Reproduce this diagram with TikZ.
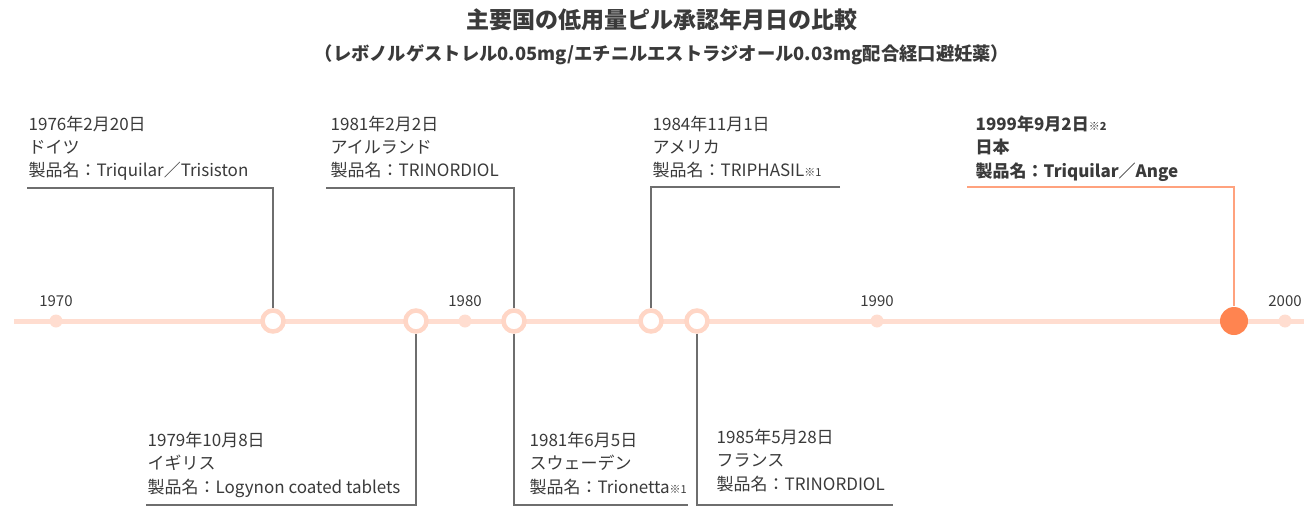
\documentclass[tikz,border=0pt]{standalone}
\usepackage{fontspec}
\setmainfont{Noto Sans CJK JP}
\usepackage{tikz}
\definecolor{tl}{HTML}{FFDDD0}
\definecolor{ring}{HTML}{FFD6C6}
\definecolor{jp}{HTML}{FF8450}
\definecolor{jpline}{HTML}{FFA27E}
\definecolor{txt}{HTML}{3A3A3A}
\definecolor{conn}{HTML}{6E6E6E}
\newcommand\smallmark[1]{{\fontsize{11}{11}\selectfont #1}}

\begin{document}
\begin{tikzpicture}[x=1pt,y=-1pt,line width=1.3pt,
  every node/.style={text=txt},
  lbl/.style={align=left,inner sep=0,anchor=north west,font=\fontsize{17}{23.5}\selectfont},
  year/.style={inner sep=0,font=\fontsize{15}{15}\selectfont},
  tick/.style={circle,fill=tl,inner sep=0,minimum size=13pt},
  ring/.style={circle,draw=ring,line width=4.5pt,fill=white,inner sep=0,minimum size=21pt},
  link/.style={draw=conn}]

  \useasboundingbox (0,0) rectangle (1307,506);

  \node[font=\fontsize{23}{23}\selectfont\bfseries] (t) at (662,20) {主要国の低用量ピル承認年月日の比較};
  \node[font=\fontsize{18.3}{18.3}\selectfont\bfseries] (st) at (662,55) {（レボノルゲストレル0.05mg/エチニルエストラジオール0.03mg配合経口避妊薬）};

  % timeline
  \coordinate (s) at (14,321);
  \coordinate (e) at (1304,321);
  \draw[tl,line width=5pt] (s) -- (e);

  \foreach \x/\yr in {56/1970,465/1980,877/1990,1285/2000} {
    \node[tick] (y\yr) at (\x,321) {};
    \node[year] (n\yr) at (\x,301) {\yr};
  }

  \node[ring] (1) at (273,321) {};
  \node[ring] (2) at (416,321) {};
  \node[ring] (3) at (514,321) {};
  \node[ring] (4) at (651,321) {};
  \node[ring] (5) at (697,321) {};
  \node[circle,fill=jp,inner sep=0,minimum size=28pt] (6) at (1234,321) {};

  % labels
  \node[lbl] (l1) at (28,115) {1976年2月20日\\ドイツ\\製品名：Triquilar／Trisiston};
  \node[lbl] (l2) at (147,431) {1979年10月8日\\イギリス\\製品名：Logynon coated tablets};
  \node[lbl] (l3) at (330,115) {1981年2月2日\\アイルランド\\製品名：TRINORDIOL};
  \node[lbl] (l4) at (529,431) {1981年6月5日\\スウェーデン\\製品名：Trionetta\smallmark{※1}};
  \node[lbl] (l5) at (652,115) {1984年11月1日\\アメリカ\\製品名：TRIPHASIL\smallmark{※1}};
  \node[lbl] (l6) at (716,428) {1985年5月28日\\フランス\\製品名：TRINORDIOL};
  \node[lbl,font=\fontsize{17}{23.5}\selectfont\bfseries] (l7) at (975,115) {1999年9月2日\smallmark{※2}\\日本\\製品名：Triquilar／Ange};

  % connectors
  \coordinate (c1) at (27,188);
  \coordinate (c2) at (146,505);
  \coordinate (c3) at (326,188);
  \coordinate (c4) at (688,505);
  \coordinate (c5) at (840,187);
  \coordinate (c6) at (893,505);
  \coordinate (c7) at (967,187);
  \draw[link] (c1) -| (1.north);
  \draw[link] (c2) -| (2.south);
  \draw[link] (c3) -| (3.north);
  \draw[link] (3.south) |- (c4);
  \draw[link] (c5) -| (4.north);
  \draw[link] (5.south) |- (c6);
  \draw[jpline] (c7) -| (6.north);
\end{tikzpicture}
\end{document}
